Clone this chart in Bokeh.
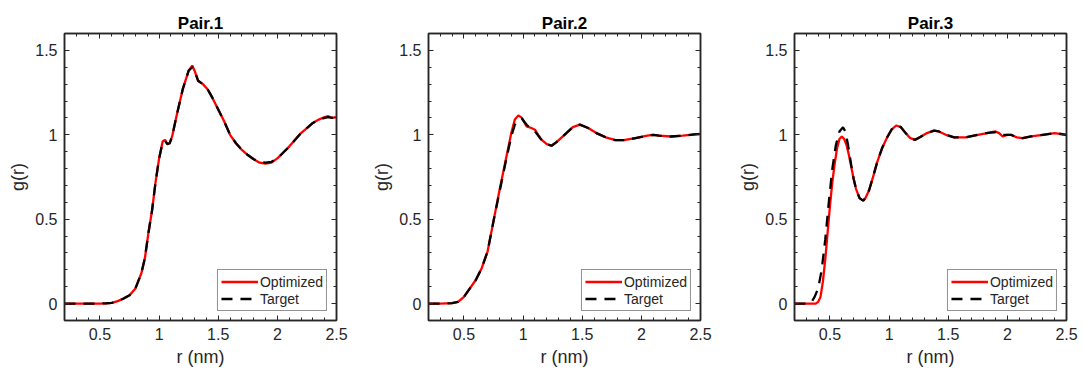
from bokeh.plotting import figure
from bokeh.layouts import row
from bokeh.models import FixedTicker, LinearAxis, CustomJSTickFormatter, Legend, LegendItem
from bokeh.embed import file_html
from bokeh.resources import INLINE

# ---------------- data ----------------
titles = ["Pair.1", "Pair.2", "Pair.3"]
x_ticks = [0.5, 1.0, 1.5, 2.0, 2.5]
y_ticks = [0.0, 0.5, 1.0, 1.5]

r1 = [0.20, 0.30, 0.40, 0.50, 0.55, 0.60, 0.65, 0.70, 0.75, 0.80, 0.85, 0.88, 0.91, 0.94, 0.97,
      1.00, 1.03, 1.05, 1.07, 1.09, 1.11, 1.15, 1.20, 1.25, 1.28, 1.30, 1.33, 1.37, 1.41, 1.45,
      1.50, 1.55, 1.60, 1.65, 1.70, 1.75, 1.80, 1.85, 1.90, 1.95, 2.00, 2.05, 2.10, 2.15, 2.20,
      2.25, 2.30, 2.35, 2.40, 2.43, 2.46, 2.50]
g1_opt = [0.0, 0.0, 0.0, 0.0, 0.002, 0.005, 0.015, 0.03, 0.05, 0.09, 0.18, 0.27, 0.42, 0.55, 0.72,
          0.86, 0.96, 0.97, 0.945, 0.95, 0.99, 1.12, 1.27, 1.38, 1.41, 1.38, 1.32, 1.30, 1.27, 1.22,
          1.15, 1.08, 1.00, 0.95, 0.91, 0.88, 0.855, 0.835, 0.83, 0.835, 0.86, 0.895, 0.93, 0.97, 1.01,
          1.04, 1.07, 1.09, 1.105, 1.11, 1.10, 1.105]
g1_tgt = [0.0, 0.0, 0.0, 0.0, 0.002, 0.005, 0.015, 0.03, 0.05, 0.09, 0.18, 0.27, 0.42, 0.55, 0.72,
          0.86, 0.955, 0.965, 0.945, 0.95, 0.99, 1.12, 1.27, 1.38, 1.40, 1.38, 1.32, 1.30, 1.27, 1.22,
          1.15, 1.08, 1.00, 0.95, 0.91, 0.88, 0.855, 0.84, 0.835, 0.84, 0.86, 0.895, 0.93, 0.97, 1.01,
          1.04, 1.07, 1.09, 1.10, 1.105, 1.10, 1.105]

r2 = [0.20, 0.30, 0.40, 0.45, 0.50, 0.55, 0.60, 0.65, 0.70, 0.75, 0.80, 0.85, 0.90, 0.93, 0.96,
      0.99, 1.03, 1.07, 1.10, 1.15, 1.20, 1.24, 1.28, 1.35, 1.42, 1.48, 1.55, 1.62, 1.70, 1.78,
      1.85, 1.95, 2.05, 2.10, 2.15, 2.25, 2.35, 2.45, 2.50]
g2_opt = [0.0, 0.0, 0.003, 0.01, 0.04, 0.09, 0.14, 0.21, 0.31, 0.49, 0.67, 0.84, 1.01, 1.09, 1.115,
          1.10, 1.05, 1.04, 1.03, 0.975, 0.945, 0.935, 0.955, 1.00, 1.045, 1.06, 1.04, 1.01, 0.985, 0.968,
          0.968, 0.98, 0.995, 1.0, 0.995, 0.99, 0.995, 1.002, 1.005]
g2_tgt = [0.0, 0.0, 0.003, 0.01, 0.04, 0.09, 0.14, 0.21, 0.31, 0.49, 0.66, 0.83, 0.99, 1.06, 1.09,
          1.095, 1.06, 1.03, 1.02, 0.975, 0.945, 0.935, 0.955, 1.00, 1.045, 1.06, 1.04, 1.01, 0.985, 0.968,
          0.968, 0.98, 0.995, 1.0, 0.995, 0.99, 0.995, 1.002, 1.005]

r3_opt = [0.20, 0.30, 0.38, 0.40, 0.42, 0.44, 0.46, 0.48, 0.50, 0.52, 0.54, 0.56, 0.58, 0.60, 0.62,
          0.64, 0.66, 0.68, 0.70, 0.72, 0.75, 0.78, 0.80, 0.83, 0.86, 0.90, 0.94, 0.98, 1.02, 1.06,
          1.10, 1.14, 1.18, 1.22, 1.26, 1.32, 1.38, 1.42, 1.48, 1.55, 1.65, 1.75, 1.85, 1.90, 1.93,
          1.96, 2.00, 2.03, 2.08, 2.13, 2.20, 2.30, 2.40, 2.50]
g3_opt = [0.0, 0.0, 0.0, 0.01, 0.04, 0.13, 0.26, 0.42, 0.58, 0.72, 0.83, 0.92, 0.975, 0.99, 0.975,
          0.94, 0.88, 0.81, 0.74, 0.68, 0.625, 0.61, 0.625, 0.67, 0.74, 0.84, 0.92, 0.98, 1.03, 1.055,
          1.045, 1.01, 0.98, 0.97, 0.985, 1.01, 1.025, 1.02, 1.0, 0.985, 0.985, 1.0, 1.013, 1.02, 1.01,
          0.99, 1.0, 1.0, 0.985, 0.98, 0.99, 1.0, 1.01, 1.0]
r3_tgt = [0.20, 0.30, 0.34, 0.37, 0.40, 0.43, 0.46, 0.49, 0.52, 0.55, 0.58, 0.61, 0.63, 0.65, 0.68,
          0.70, 0.72, 0.75, 0.78, 0.80, 0.83, 0.86, 0.90, 0.94, 0.98, 1.02, 1.06, 1.10, 1.14, 1.18,
          1.22, 1.26, 1.32, 1.38, 1.42, 1.48, 1.55, 1.65, 1.75, 1.85, 1.90, 1.93, 1.96, 2.00, 2.03,
          2.08, 2.13, 2.20, 2.30, 2.40, 2.50]
g3_tgt = [0.0, 0.0, 0.005, 0.04, 0.09, 0.20, 0.38, 0.60, 0.80, 0.94, 1.02, 1.045, 1.02, 0.95, 0.82,
          0.74, 0.68, 0.625, 0.61, 0.625, 0.67, 0.74, 0.84, 0.92, 0.98, 1.03, 1.055, 1.045, 1.01, 0.98,
          0.97, 0.985, 1.01, 1.025, 1.02, 1.0, 0.985, 0.985, 1.0, 1.013, 1.015, 1.0, 1.0, 1.0, 1.0,
          0.985, 0.98, 0.99, 1.0, 1.01, 1.0]

panels = [
    (titles[0], r1, g1_opt, r1, g1_tgt, 364),
    (titles[1], r2, g2_opt, r2, g2_tgt, 366),
    (titles[2], r3_opt, g3_opt, r3_tgt, g3_tgt, 353),
]

TXT = "#262626"
FONT = "Liberation Sans"
x_minor = [round(0.2 + 0.1 * i, 2) for i in range(24)]
y_minor = [round(-0.1 + 0.1 * i, 2) for i in range(18)]
fmt = CustomJSTickFormatter(code="return String(Math.round(tick*10)/10);")
blank = CustomJSTickFormatter(code="return '';")


def style_axis(ax, show_labels):
    ax.axis_line_color = TXT
    ax.axis_line_width = 1.5
    ax.major_tick_in = 5
    ax.major_tick_out = 0
    ax.minor_tick_in = 3
    ax.minor_tick_out = 0
    ax.major_tick_line_color = TXT
    ax.minor_tick_line_color = TXT
    ax.major_tick_line_width = 1
    ax.minor_tick_line_width = 1
    ax.major_label_text_font = FONT
    ax.major_label_text_color = TXT
    if show_labels:
        ax.major_label_text_font_size = "16px"
        ax.major_label_standoff = 7
        ax.axis_label_text_font = FONT
        ax.axis_label_text_font_size = "18px"
        ax.axis_label_text_font_style = "normal"
        ax.axis_label_text_color = TXT
        ax.axis_label_standoff = 4
    else:
        ax.formatter = blank
        ax.major_label_standoff = 0


figs = []
for title, rx, go, rt, gt, w in panels:
    p = figure(width=w, height=373, output_backend="svg", toolbar_location=None,
               x_range=(0.2, 2.5), y_range=(-0.1, 1.6),
               min_border_left=64, min_border_right=w - 64 - 272,
               min_border_top=33, min_border_bottom=53)
    p.title.text = title
    p.title.align = "center"
    p.title.text_font = FONT
    p.title.text_font_size = "17px"
    p.title.text_font_style = "bold"
    p.title.text_color = "black"
    p.title.standoff = 2
    p.grid.visible = False
    p.outline_line_color = TXT
    p.outline_line_width = 1.5
    p.background_fill_color = "white"
    p.border_fill_color = "white"

    p.xaxis.ticker = FixedTicker(ticks=x_ticks, minor_ticks=x_minor)
    p.yaxis.ticker = FixedTicker(ticks=y_ticks, minor_ticks=y_minor)
    p.xaxis.formatter = fmt
    p.yaxis.formatter = fmt
    p.xaxis.axis_label = "r (nm)"
    p.yaxis.axis_label = "g(r)"
    for ax in p.xaxis + p.yaxis:
        style_axis(ax, True)

    top = LinearAxis(ticker=FixedTicker(ticks=x_ticks, minor_ticks=x_minor))
    right = LinearAxis(ticker=FixedTicker(ticks=y_ticks, minor_ticks=y_minor))
    style_axis(top, False)
    style_axis(right, False)
    p.add_layout(top, "above")
    p.add_layout(right, "right")

    l_opt = p.line(rx, go, line_color="#ff0000", line_width=2.3)
    l_tgt = p.line(rt, gt, line_color="black", line_width=2.3, line_dash="11 8")

    leg = Legend(items=[LegendItem(label="Optimized", renderers=[l_opt]),
                        LegendItem(label="Target", renderers=[l_tgt])],
                 location="bottom_right")
    leg.margin = 9
    leg.padding = 3
    leg.spacing = 0
    leg.glyph_width = 37
    leg.glyph_height = 17
    leg.label_height = 17
    leg.label_standoff = 2
    leg.label_text_font = FONT
    leg.label_text_font_size = "14px"
    leg.label_text_color = TXT
    leg.border_line_color = TXT
    leg.border_line_width = 1.2
    leg.background_fill_alpha = 1
    p.add_layout(leg, "center")
    figs.append(p)

layout = row(*figs)
open("out.html", "w").write(file_html(layout, INLINE))
